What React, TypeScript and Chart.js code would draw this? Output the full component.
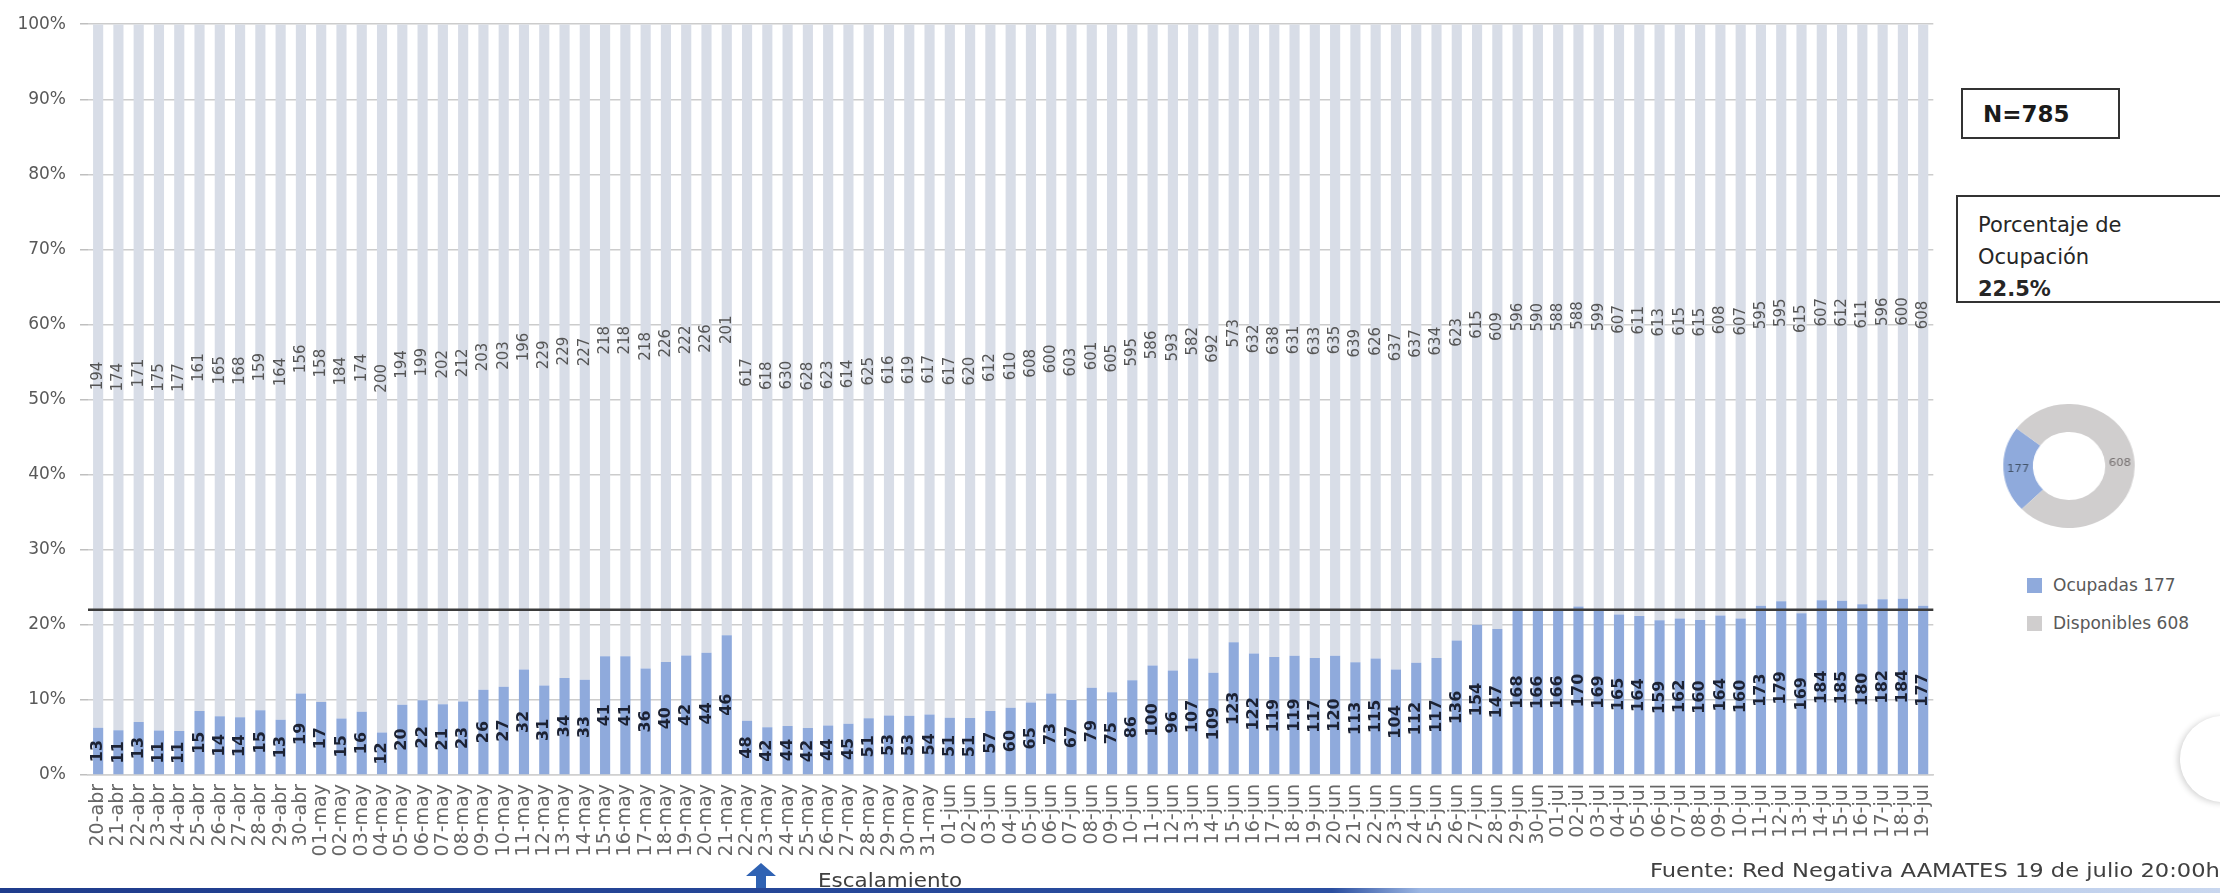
import React, { useEffect, useRef } from "react";
import { Chart, registerables } from "chart.js";
Chart.register(...registerables);

const fechas = [
  "20-abr","21-abr","22-abr","23-abr","24-abr","25-abr","26-abr","27-abr","28-abr","29-abr","30-abr",
  "01-may","02-may","03-may","04-may","05-may","06-may","07-may","08-may","09-may","10-may",
  "11-may","12-may","13-may","14-may","15-may","16-may","17-may","18-may","19-may","20-may",
  "21-may","22-may","23-may","24-may","25-may","26-may","27-may","28-may","29-may","30-may","31-may",
  "01-jun","02-jun","03-jun","04-jun","05-jun","06-jun","07-jun","08-jun","09-jun","10-jun",
  "11-jun","12-jun","13-jun","14-jun","15-jun","16-jun","17-jun","18-jun","19-jun","20-jun",
  "21-jun","22-jun","23-jun","24-jun","25-jun","26-jun","27-jun","28-jun","29-jun","30-jun",
  "01-jul","02-jul","03-jul","04-jul","05-jul","06-jul","07-jul","08-jul","09-jul","10-jul",
  "11-jul","12-jul","13-jul","14-jul","15-jul","16-jul","17-jul","18-jul","19-jul"
];

const ocupadas = [
  13,11,13,11,11,15,14,14,15,13,19,
  17,15,16,12,20,22,21,23,26,27,32,31,34,33,41,41,36,40,42,44,46,
  48,42,44,42,44,45,51,53,53,54,
  51,51,57,60,65,73,67,79,75,86,100,96,107,109,123,122,119,119,117,120,
  113,115,104,112,117,136,154,147,168,166,
  166,170,169,165,164,159,162,160,164,160,173,179,169,184,185,180,182,184,177
];

const disponibles = [
  194,174,171,175,177,161,165,168,159,164,156,
  158,184,174,200,194,199,202,212,203,203,196,229,229,227,218,218,218,226,222,226,201,
  617,618,630,628,623,614,625,616,619,617,
  617,620,612,610,608,600,603,601,605,595,586,593,582,692,573,632,638,631,633,635,
  639,626,637,637,634,623,615,609,596,590,
  588,588,599,607,611,613,615,615,608,607,595,595,615,607,612,611,596,600,608
];

const LINEA_REFERENCIA = 22;
const Y_PASO = 10;

const N_TOTAL = 785;
const PORCENTAJE_OCUPACION = "22.5%";
const donutEtiquetas = ["Ocupadas", "Disponibles"];
const donutValores = [177, 608];

const COLOR_OCUP = "#8faadc";
const COLOR_DISP = "#d8dde7";
const COLOR_DONUT_DISP = "#d0cece";
const FONT = '"DejaVu Sans", "Liberation Sans", sans-serif';

const barLabelsPlugin = {
  id: "barLabels",
  afterDatasetsDraw(chart: any) {
    const ctx = chart.ctx;
    const y = chart.scales.y;
    const yl = y.getPixelForValue(LINEA_REFERENCIA);
    ctx.save();
    ctx.strokeStyle = "#3b3b3b";
    ctx.lineWidth = 2.5;
    ctx.beginPath();
    ctx.moveTo(chart.chartArea.left, yl);
    ctx.lineTo(chart.chartArea.right, yl);
    ctx.stroke();
    ctx.restore();

    chart.data.datasets.forEach((ds: any, di: number) => {
      const meta = chart.getDatasetMeta(di);
      const raw = di === 0 ? ocupadas : disponibles;
      meta.data.forEach((el: any, i: number) => {
        const p = el.getProps(["x", "y", "base"], true);
        const cy = (p.y + p.base) / 2;
        ctx.save();
        ctx.translate(p.x, cy);
        ctx.rotate(-Math.PI / 2);
        ctx.textAlign = "center";
        ctx.textBaseline = "middle";
        if (di === 0) {
          ctx.font = `bold 16px ${FONT}`;
          ctx.fillStyle = "#1c2233";
        } else {
          ctx.font = `15px ${FONT}`;
          ctx.fillStyle = "#555555";
        }
        ctx.fillText(String(raw[i]), 0, 0);
        ctx.restore();
      });
    });
  },
};

const donutLabelsPlugin = {
  id: "donutLabels",
  afterDatasetsDraw(chart: any) {
    const ctx = chart.ctx;
    const meta = chart.getDatasetMeta(0);
    meta.data.forEach((el: any, i: number) => {
      const pos = el.tooltipPosition();
      ctx.save();
      ctx.font = `11px ${FONT}`;
      ctx.fillStyle = i === 0 ? "#44546a" : "#767171";
      ctx.textAlign = "center";
      ctx.textBaseline = "middle";
      ctx.fillText(String(donutValores[i]), pos.x, pos.y);
      ctx.restore();
    });
  },
};

export default function App() {
  const barRef = useRef<HTMLCanvasElement | null>(null);
  const donutRef = useRef<HTMLCanvasElement | null>(null);

  useEffect(() => {
    const totals = ocupadas.map((o, i) => o + disponibles[i]);
    const pctOcc = ocupadas.map((o, i) => (o / totals[i]) * 100);
    const pctDisp = disponibles.map((d, i) => (d / totals[i]) * 100);

    const bar = new Chart(barRef.current as HTMLCanvasElement, {
      type: "bar",
      data: {
        labels: fechas,
        datasets: [
          { label: "Ocupadas", data: pctOcc, backgroundColor: COLOR_OCUP, barPercentage: 0.5, categoryPercentage: 1 },
          { label: "Disponibles", data: pctDisp, backgroundColor: COLOR_DISP, barPercentage: 0.5, categoryPercentage: 1 },
        ],
      },
      options: {
        animation: false,
        responsive: true,
        maintainAspectRatio: false,
        layout: { padding: { top: 20, right: 3, left: 0, bottom: 0 } },
        plugins: { legend: { display: false }, tooltip: { enabled: false } },
        scales: {
          x: {
            stacked: true,
            ticks: {
              autoSkip: false,
              minRotation: 90,
              maxRotation: 90,
              color: "#666666",
              font: { family: FONT, size: 19 },
              padding: 9,
            },
            grid: { display: false, drawTicks: false },
            border: { display: true, color: "#d0d0d0", width: 1.5 },
            afterFit: (s: any) => { s.height = 95; },
          },
          y: {
            stacked: true,
            min: 0,
            max: 100,
            ticks: {
              stepSize: Y_PASO,
              callback: (v: any) => v + "%",
              color: "#595959",
              font: { family: FONT, size: 17 },
              padding: 14,
            },
            grid: { color: "#cccccc", lineWidth: 1.5, tickLength: 8, tickColor: "#bfbfbf" },
            border: { display: false },
            afterFit: (s: any) => { s.width = 88; },
          },
        },
      },
      plugins: [barLabelsPlugin],
    });

    const donut = new Chart(donutRef.current as HTMLCanvasElement, {
      type: "doughnut",
      data: {
        labels: donutEtiquetas,
        datasets: [{ data: donutValores, backgroundColor: [COLOR_OCUP, COLOR_DONUT_DISP], borderWidth: 0 }],
      },
      options: {
        animation: false,
        responsive: true,
        maintainAspectRatio: false,
        rotation: 226,
        cutout: "55%",
        layout: { padding: 0 },
        plugins: { legend: { display: false }, tooltip: { enabled: false } },
      },
      plugins: [donutLabelsPlugin],
    });

    return () => {
      bar.destroy();
      donut.destroy();
    };
  }, []);

  return (
    <div
      style={{
        position: "fixed",
        left: 0,
        top: 0,
        width: 2220,
        height: 893,
        background: "#ffffff",
        overflow: "hidden",
        fontFamily: FONT,
      }}
    >
      <div style={{ position: "absolute", left: 0, top: 0, width: 1955, height: 870 }}>
        <canvas ref={barRef} />
      </div>

      <div
        style={{
          position: "absolute",
          left: 1961,
          top: 88,
          width: 155,
          height: 47,
          border: "2px solid #333",
          boxSizing: "content-box",
          display: "flex",
          alignItems: "center",
          background: "#fff",
        }}
      >
        <span style={{ marginLeft: 20, fontWeight: "bold", fontSize: 23, color: "#1a1a1a" }}>N={N_TOTAL}</span>
      </div>

      <div
        style={{
          position: "absolute",
          left: 1956,
          top: 195,
          width: 300,
          height: 108,
          border: "2px solid #333",
          boxSizing: "border-box",
          padding: "12px 0 0 20px",
          fontSize: 21,
          lineHeight: "32px",
          color: "#262626",
          background: "#fff",
        }}
      >
        <div>Porcentaje de</div>
        <div>Ocupación</div>
        <div style={{ fontWeight: "bold" }}>{PORCENTAJE_OCUPACION}</div>
      </div>

      <div style={{ position: "absolute", left: 2001, top: 404, width: 136, height: 124, transform: "scaleX(1.06)" }}>
        <canvas ref={donutRef} />
      </div>

      <div style={{ position: "absolute", left: 2027, top: 566, fontSize: 17, color: "#595959", lineHeight: "38px" }}>
        <div style={{ display: "flex", alignItems: "center" }}>
          <span style={{ display: "inline-block", width: 15, height: 15, background: COLOR_OCUP, marginRight: 11 }} />
          {donutEtiquetas[0]} {donutValores[0]}
        </div>
        <div style={{ display: "flex", alignItems: "center" }}>
          <span style={{ display: "inline-block", width: 15, height: 15, background: COLOR_DONUT_DISP, marginRight: 11 }} />
          {donutEtiquetas[1]} {donutValores[1]}
        </div>
      </div>

      <div
        style={{
          position: "absolute",
          left: 2180,
          top: 716,
          width: 86,
          height: 86,
          borderRadius: "50%",
          background: "#fff",
          boxShadow: "-2px 1px 6px rgba(0,0,0,0.18)",
        }}
      />

      <svg style={{ position: "absolute", left: 746, top: 863 }} width="30" height="30">
        <polygon points="15,0 30,13 20,13 20,30 10,30 10,13 0,13" fill="#2f62b3" />
      </svg>
      <div
        style={{
          position: "absolute",
          left: 818,
          top: 869,
          fontSize: 19,
          color: "#404040",
          whiteSpace: "nowrap",
          transform: "scaleX(1.13)",
          transformOrigin: "left top",
        }}
      >
        Escalamiento
      </div>

      <div
        style={{
          position: "absolute",
          left: 1650,
          top: 858,
          fontSize: 20,
          color: "#404040",
          whiteSpace: "nowrap",
          transform: "scaleX(1.13)",
          transformOrigin: "left top",
        }}
      >
        Fuente: Red Negativa AAMATES 19 de julio 20:00hrs
      </div>

      <div
        style={{
          position: "absolute",
          left: 0,
          top: 888,
          width: 2220,
          height: 5,
          background: "linear-gradient(to right, #1f3c8c 0%, #2a4ea0 60%, #9db7e3 64%, #c9d7ef 100%)",
        }}
      />
    </div>
  );
}
